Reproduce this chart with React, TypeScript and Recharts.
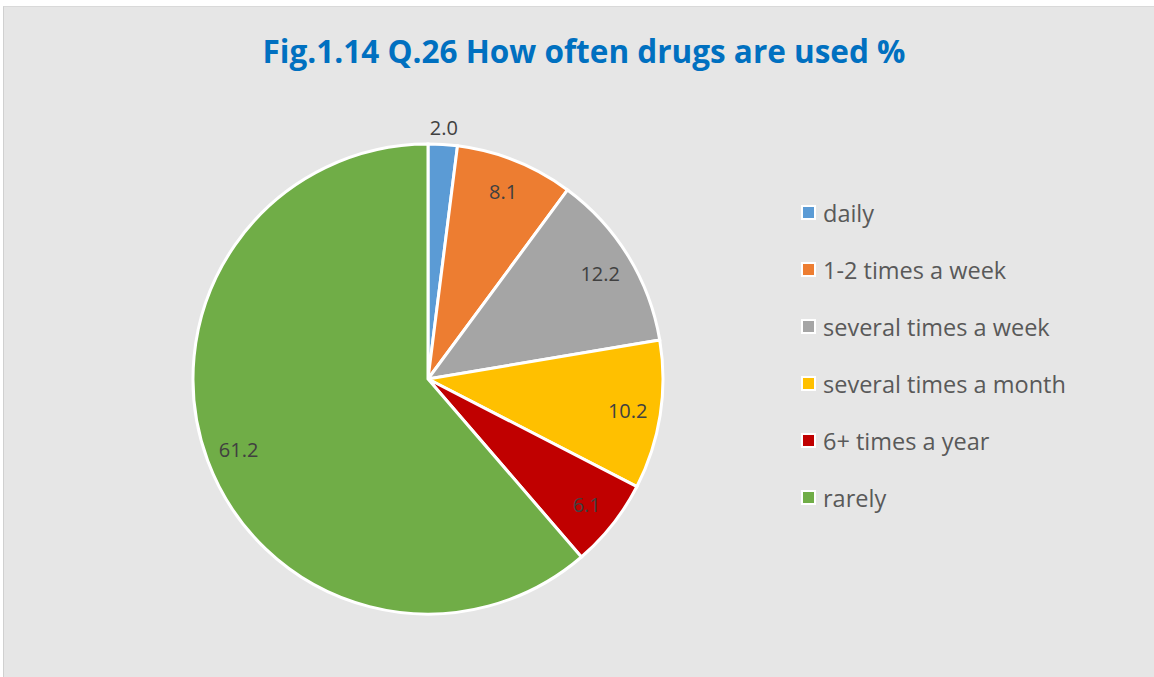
import { PieChart, Pie, Cell, Legend } from "recharts";

const categories = [
  "daily",
  "1-2 times a week",
  "several times a week",
  "several times a month",
  "6+ times a year",
  "rarely",
];
const values = [2.0, 8.1, 12.2, 10.2, 6.1, 61.2];
const colors = ["#5b9bd5", "#ed7d31", "#a5a5a5", "#ffc000", "#c00000", "#70ad47"];

const data = categories.map((name, i) => ({ name, value: values[i] }));

const RAD = Math.PI / 180;
const FONT = "'Open Sans', sans-serif";

// labels sit inside the slice, small slices go outside like Excel's best fit
const renderLabel = (props: any) => {
  const { cx, cy, midAngle, outerRadius, value } = props;
  const r = value < 3 ? outerRadius + 17 : outerRadius * 0.86;
  const x = cx + r * Math.cos(-midAngle * RAD);
  const y = cy + r * Math.sin(-midAngle * RAD);
  return (
    <text x={x} y={y} fill="#404040" fontSize={20} fontFamily={FONT} textAnchor="middle" dominantBaseline="central">
      {value.toFixed(1)}
    </text>
  );
};

const renderLegend = () => (
  <div>
    {data.map((d, i) => (
      <div key={d.name} style={{ display: "flex", alignItems: "center", height: 57 }}>
        <span
          style={{
            display: "inline-block",
            width: 11,
            height: 11,
            background: colors[i],
            border: "2px solid #fff",
            marginRight: 7,
          }}
        />
        <span style={{ fontFamily: FONT, fontSize: 23.5, color: "#595959" }}>{d.name}</span>
      </div>
    ))}
  </div>
);

export default function App() {
  return (
    <div style={{ position: "absolute", left: 0, top: 0, width: 1154, height: 677, background: "#fff" }}>
      <div
        style={{
          position: "absolute",
          left: 3,
          top: 6,
          width: 1151,
          height: 671,
          background: "#e6e6e6",
          borderLeft: "1px solid #d0d0d0",
          borderTop: "1px solid #d9d9d9",
          boxSizing: "border-box",
        }}
      />
      <div
        style={{
          position: "absolute",
          left: 0,
          top: 29,
          width: 1168,
          textAlign: "center",
          fontFamily: FONT,
          fontWeight: 700,
          fontSize: 31.5,
          color: "#0070c0",
        }}
      >
        Fig.1.14 Q.26 How often drugs are used %
      </div>
      <div style={{ position: "absolute", left: 0, top: 0 }}>
        <PieChart width={1154} height={677}>
          <Pie
            data={data}
            dataKey="value"
            nameKey="name"
            cx={423}
            cy={374}
            outerRadius={235}
            startAngle={90}
            endAngle={-270}
            stroke="#fff"
            strokeWidth={3}
            label={renderLabel}
            labelLine={false}
            isAnimationActive={false}
          >
            {data.map((d, i) => (
              <Cell key={d.name} fill={colors[i]} />
            ))}
          </Pie>
          <Legend content={renderLegend} wrapperStyle={{ left: 801, top: 184, width: 345 }} />
        </PieChart>
      </div>
    </div>
  );
}
